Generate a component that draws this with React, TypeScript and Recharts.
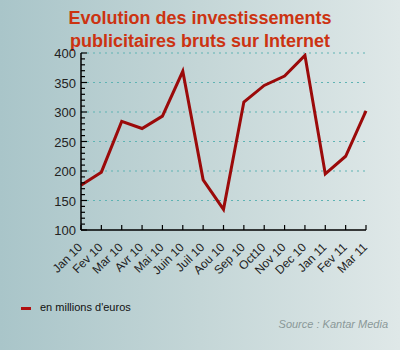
import React from "react";
import { LineChart, Line, XAxis, YAxis, ReferenceLine } from "recharts";

const months = ["Jan 10", "Fev 10", "Mar 10", "Avr 10", "Mai 10", "Juin 10", "Juil 10", "Aou 10", "Sep 10", "Oct10", "Nov 10", "Dec 10", "Jan 11", "Fev 11", "Mar 11"];
const values = [176, 198, 284, 272, 293, 369, 185, 135, 317, 345, 361, 396, 195, 225, 302];
const majorTicks = [100, 150, 200, 250, 300, 350, 400];
const gridValues = [150, 200, 250, 300, 350, 400];
const allTicks = [100, 110, 120, 130, 140, 150, 160, 170, 180, 190, 200, 210, 220, 230, 240, 250, 260, 270, 280, 290, 300, 310, 320, 330, 340, 350, 360, 370, 380, 390, 400];

const data = months.map((m, i) => ({ month: m, value: values[i] }));

const FONT = "Arial, 'Liberation Sans', sans-serif";

const YTick = (props: any) => {
  const { x, y, payload } = props;
  const v = payload.value;
  const major = majorTicks.includes(v);
  return (
    <g>
      <line x1={x} x2={x + (major ? 6 : 4)} y1={y} y2={y} stroke="#000" strokeWidth={1.2} />
      {major && (
        <text x={x - 5} y={y + 5} textAnchor="end" fontSize={13} fill="#222" fontFamily={FONT}>
          {v}
        </text>
      )}
    </g>
  );
};

const XTick = (props: any) => {
  const { x, y, payload } = props;
  const ax = x + 2;
  const ay = y + 18;
  return (
    <g>
      <line x1={x} x2={x} y1={y} y2={y - 5} stroke="#000" strokeWidth={1.2} />
      <text
        x={ax}
        y={ay}
        textAnchor="end"
        fontSize={12}
        fill="#222"
        fontFamily={FONT}
        transform={`rotate(-45 ${ax} ${ay})`}
      >
        {payload.value}
      </text>
    </g>
  );
};

export default function App() {
  return (
    <div
      style={{
        position: "absolute",
        left: 0,
        top: 0,
        width: 400,
        height: 350,
        background: "linear-gradient(to right, #a9c5c9 0%, #c4d6d7 50%, #dfe8e8 100%)",
        fontFamily: FONT,
        overflow: "hidden",
      }}
    >
      <div
        style={{
          position: "absolute",
          top: 7,
          left: 0,
          width: 400,
          textAlign: "center",
          color: "#cc3311",
          fontWeight: "bold",
          fontSize: 18,
          lineHeight: "23px",
        }}
      >
        Evolution des investissements
        <br />
        publicitaires bruts sur Internet
      </div>
      <div style={{ position: "absolute", left: 0, top: 0 }}>
        <LineChart width={400} height={350} data={data} margin={{ top: 53, right: 34, bottom: 60, left: 8 }}>
          {gridValues.map((g) => (
            <ReferenceLine key={g} y={g} stroke="#5fb3b3" strokeDasharray="2 4" strokeWidth={1} />
          ))}
          <XAxis
            dataKey="month"
            height={60}
            interval={0}
            tickSize={0}
            tickMargin={0}
            tick={<XTick />}
            axisLine={{ stroke: "#000", strokeWidth: 1.5 }}
            tickLine={false}
            padding={{ left: 0, right: 0 }}
          />
          <YAxis
            domain={[100, 400]}
            ticks={allTicks}
            interval={0}
            width={73}
            tickSize={0}
            tickMargin={0}
            tick={<YTick />}
            axisLine={{ stroke: "#000", strokeWidth: 1.5 }}
            tickLine={false}
            allowDataOverflow
          />
          <Line
            type="linear"
            dataKey="value"
            stroke="#9b0a0a"
            strokeWidth={3}
            dot={false}
            isAnimationActive={false}
          />
        </LineChart>
      </div>
      <div style={{ position: "absolute", left: 21, top: 307, width: 10, height: 3, background: "#b01010" }} />
      <div style={{ position: "absolute", left: 40, top: 301, fontSize: 11, color: "#111" }}>en millions d'euros</div>
      <div
        style={{
          position: "absolute",
          right: 12,
          top: 318,
          fontSize: 11,
          color: "#8a9898",
          fontStyle: "italic",
        }}
      >
        Source : Kantar Media
      </div>
    </div>
  );
}
